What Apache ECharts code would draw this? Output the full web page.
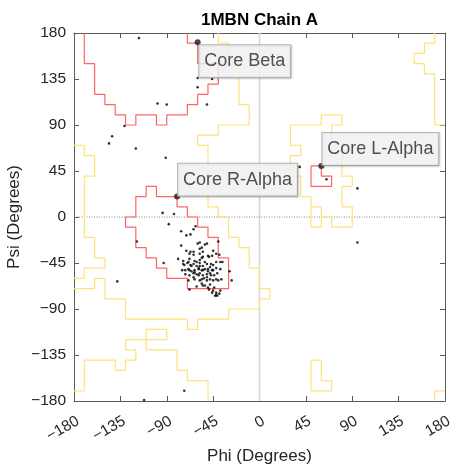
<!DOCTYPE html>
<html><head><meta charset="utf-8">
<script src="https://cdn.jsdelivr.net/npm/echarts@6/dist/echarts.min.js"></script>
<style>html,body{margin:0;padding:0;background:#fff}#c{width:454px;height:466px}</style>
</head><body><div id="c"></div>
<script>
// ---- tick values ----
const phiTicks = [-180,-135,-90,-45,0,45,90,135,180];
const psiTicks = [-180,-135,-90,-45,0,45,90,135,180];

// ---- core regions (red) [phi, psi] ----
const coreBeta = [[-170,180],[-170,150],[-160,150],[-160,120],[-150,120],[-150,110],[-140,110],[-140,100],[-130,100],[-130,90],[-120,90],[-120,100],[-100,100],[-100,90],[-90,90],[-90,100],[-70,100],[-70,110],[-60,110],[-60,120],[-50,120],[-50,130],[-40,130],[-40,150],[-60,150],[-60,170],[-70,170],[-70,180]];
const coreRAlpha = [[-80,20],[-80,10],[-70,10],[-70,0],[-60,0],[-60,-10],[-50,-10],[-50,-20],[-40,-20],[-40,-40],[-30,-40],[-30,-70],[-70,-70],[-70,-60],[-90,-60],[-90,-50],[-100,-50],[-100,-40],[-110,-40],[-110,-30],[-120,-30],[-120,-10],[-130,-10],[-130,0],[-120,0],[-120,20],[-110,20],[-110,30],[-100,30],[-100,20],[-80,20]];
const coreLAlpha = [[50,50],[60,50],[60,40],[70,40],[70,30],[50,30],[50,50]];

// ---- allowed regions (yellow) [phi, psi] ----
const allowedMain = [[-40,180],[-40,170],[-30,170],[-30,150],[-20,150],[-20,110],[-10,110],[-10,90],[-40,90],[-40,80],[-60,80],[-60,70],[-50,70],[-50,10],[-40,10],[-40,0],[-30,0],[-30,-20],[-20,-20],[-20,-30],[-10,-30],[-10,-50],[0,-50],[0,-70],[10,-70],[10,-80],[0,-80],[0,-90],[-30,-90],[-30,-100],[-60,-100],[-60,-110],[-70,-110],[-70,-100],[-130,-100],[-130,-80],[-150,-80],[-150,-60],[-160,-60],[-160,-70],[-180,-70]];
const allowedLeft = [[-180,70],[-170,70],[-170,60],[-160,60],[-160,40],[-170,40],[-170,-20],[-160,-20],[-160,-40],[-150,-40],[-150,-50],[-170,-50],[-170,-60],[-180,-60]];
const allowedBottomLeft = [[-180,-170],[-170,-170],[-170,-140],[-140,-140],[-140,-150],[-130,-150],[-130,-140],[-120,-140],[-120,-130],[-130,-130],[-130,-120],[-90,-120],[-90,-110],[-110,-110],[-110,-130],[-80,-130],[-80,-150],[-70,-150],[-70,-160],[-50,-160],[-50,-180]];
const allowedLAlpha = [[70,90],[80,90],[80,100],[60,100],[60,90],[30,90],[30,70],[40,70],[40,60],[30,60],[30,40],[40,40],[40,20],[50,20],[50,-10],[60,-10],[60,0],[70,0],[70,-10],[90,-10],[90,10],[80,10],[80,30],[90,30],[90,40],[80,40],[80,70],[70,70],[70,90]];
const allowedLAlphaInner = [[50,10],[60,10],[60,0]];
const allowedLowRight = [[50,-140],[60,-140],[60,-160],[70,-160],[70,-170],[50,-170],[50,-140]];
const allowedTopRight = [[170,180],[170,170],[160,170],[160,160],[150,160],[150,150],[160,150],[160,140],[170,140],[170,90],[180,90]];
const allowedBottomRight = [[170,-180],[170,-170],[180,-170]];

// ---- residues [phi, psi] ----
const isolatedResidues = [[-117,175],[-60,136],[-46,135],[-60,127],[-99,111],[-90,110],[-51,110],[-131,89],[-143,79],[-146,72],[-120,67],[-91,58],[-94,4],[-83,3],[39,49],[65,37],[95,28],[95,-25],[-88,-7],[-119,-24],[-93,-45],[-138,-63],[-73,-170],[-112,-179]];
const helixResidues = [[-76,-14],[-71,-18],[-64,-12],[-62,-9],[-76,-28],[-58,-25],[-51,-26],[-40,-24],[-71,-33],[-68,-36],[-64,-34],[-58,-36],[-55,-39],[-50,-38],[-45,-33],[-42,-36],[-36,-44],[-29,-53],[-27,-62],[-79,-41],[-74,-46],[-69,-44],[-66,-48],[-61,-44],[-58,-48],[-51,-46],[-47,-46],[-42,-44],[-72,-52],[-68,-52],[-63,-54],[-59,-51],[-55,-52],[-50,-51],[-45,-52],[-38,-51],[-64,-59],[-59,-57],[-56,-61],[-51,-59],[-47,-57],[-42,-61],[-37,-61],[-68,-71],[-61,-68],[-55,-67],[-50,-69],[-45,-72],[-42,-74],[-39,-75],[-43,-77],
[-67,-17],[-60,-26],[-56,-30],[-53,-27],[-58,-31],[-67,-34],[-64,-37],[-55,-34],[-46,-38],[-39,-37],[-74,-43],[-70,-45],[-68,-41],[-63,-43],[-58,-42],[-56,-40],[-53,-44],[-49,-39],[-73,-47],[-67,-47],[-64,-46],[-61,-48],[-58,-45],[-55,-48],[-48,-49],[-45,-47],[-38,-44],[-75,-52],[-69,-51],[-66,-53],[-63,-52],[-59,-50],[-56,-52],[-53,-51],[-50,-53],[-46,-52],[-42,-50],[-72,-56],[-68,-57],[-64,-55],[-61,-56],[-58,-55],[-55,-57],[-51,-56],[-48,-55],[-44,-57],[-41,-55],[-69,-62],[-63,-61],[-58,-62],[-54,-60],[-51,-62],[-48,-61],[-45,-62],[-40,-62],[-56,-65],[-53,-67],[-48,-66],[-44,-69],[-49,-71],[-46,-74],[-42,-76],[-38,-72],[-41,-77]];

// ---- labelled core points ----
const coreNames = ['Core Beta','Core R-Alpha','Core L-Alpha'];
const corePoints = [[-60,171],[-80,20],[60,50]];

const FONT = '"Liberation Sans", Arial, Helvetica, sans-serif';
const TXT = '#262626';
const AX = '#5a5a5a';
const RED = '#ff6464';
const YEL = '#ffe27a';
const fmt = v => String(v).replace('-', '\u2212');

function path(data, color, w) {
  return {type:'line', data:data, showSymbol:false, symbol:'none', silent:true,
    lineStyle:{color:color, width:w || 1.2}, z:3, animation:false};
}

const axisBase = {type:'value', min:-180, max:180, interval:45,
  splitLine:{show:false},
  axisLine:{onZero:false, lineStyle:{color:AX, width:1}},
  axisTick:{inside:true, length:5, lineStyle:{color:AX, width:1}}};

const labelPos = [[4.6,6,'top'],[4,2.3,'bottom'],[4,2,'bottom']];

const option = {
  animation:false,
  backgroundColor:'#fff',
  title:{text:'1MBN Chain A', left:201, top:12, padding:0,
    textStyle:{fontSize:17, fontWeight:'bold', color:'#000', fontFamily:FONT}},
  grid:{left:74, top:33, width:371, height:368, containLabel:false, outerBoundsMode:'none'},
  xAxis:[
    Object.assign({}, axisBase, {position:'bottom',
      axisLabel:{rotate:30, fontSize:15.5, color:TXT, margin:12, verticalAlign:'top', fontFamily:FONT, formatter:fmt},
      name:'Phi (Degrees)', nameLocation:'middle', nameGap:47, nameMoveOverlap:false,
      nameTextStyle:{fontSize:17, color:TXT, fontFamily:FONT}}),
    Object.assign({}, axisBase, {position:'top', axisLabel:{show:false}})
  ],
  yAxis:[
    Object.assign({}, axisBase, {position:'left',
      axisLabel:{fontSize:15.5, color:TXT, margin:8, fontFamily:FONT, formatter:fmt},
      name:'Psi (Degrees)', nameLocation:'middle', nameGap:51, nameMoveOverlap:false,
      nameTextStyle:{fontSize:17, color:TXT, fontFamily:FONT}}),
    Object.assign({}, axisBase, {position:'right', axisLabel:{show:false}})
  ],
  series:[
    {type:'line', data:[[0,-180],[0,180]], showSymbol:false, symbol:'none', silent:true,
      lineStyle:{color:'#d6d6d6', width:1.5}, z:1},
    {type:'line', data:[[-180,0],[180,0]], showSymbol:false, symbol:'none', silent:true,
      lineStyle:{color:'#7a7a7a', width:0.9, type:[1,1.5]}, z:1},
    path(allowedMain, YEL), path(allowedLeft, YEL), path(allowedBottomLeft, YEL),
    path(allowedLAlpha, YEL), path(allowedLAlphaInner, YEL), path(allowedLowRight, YEL),
    path(allowedTopRight, YEL), path(allowedBottomRight, YEL),
    path(coreBeta, RED), path(coreRAlpha, RED), path(coreLAlpha, RED),
    {type:'scatter', data:isolatedResidues.concat(helixResidues), symbol:'circle', symbolSize:2.6,
      itemStyle:{color:'#000'}, silent:true, z:5},
    {type:'scatter', z:10, symbol:'circle', symbolSize:6,
      itemStyle:{color:'#1a1a1a'},
      data: corePoints.map((p,i) => ({value:p, name:coreNames[i],
        label:{show:true, formatter:'{b}', position:[labelPos[i][0], labelPos[i][1]],
          align:'left', verticalAlign:labelPos[i][2],
          fontSize:18, lineHeight:20, color:TXT, fontFamily:FONT,
          padding:[6,5,6,5], backgroundColor:'#f8f8fb', borderColor:'#a8a8a8', borderWidth:1,
          shadowColor:'rgba(0,0,0,0.18)', shadowBlur:2, shadowOffsetX:1, shadowOffsetY:1}}))}
  ]
};
const chart = echarts.init(document.getElementById('c'), null, {renderer:'canvas'});
chart.setOption(option);
</script></body></html>
